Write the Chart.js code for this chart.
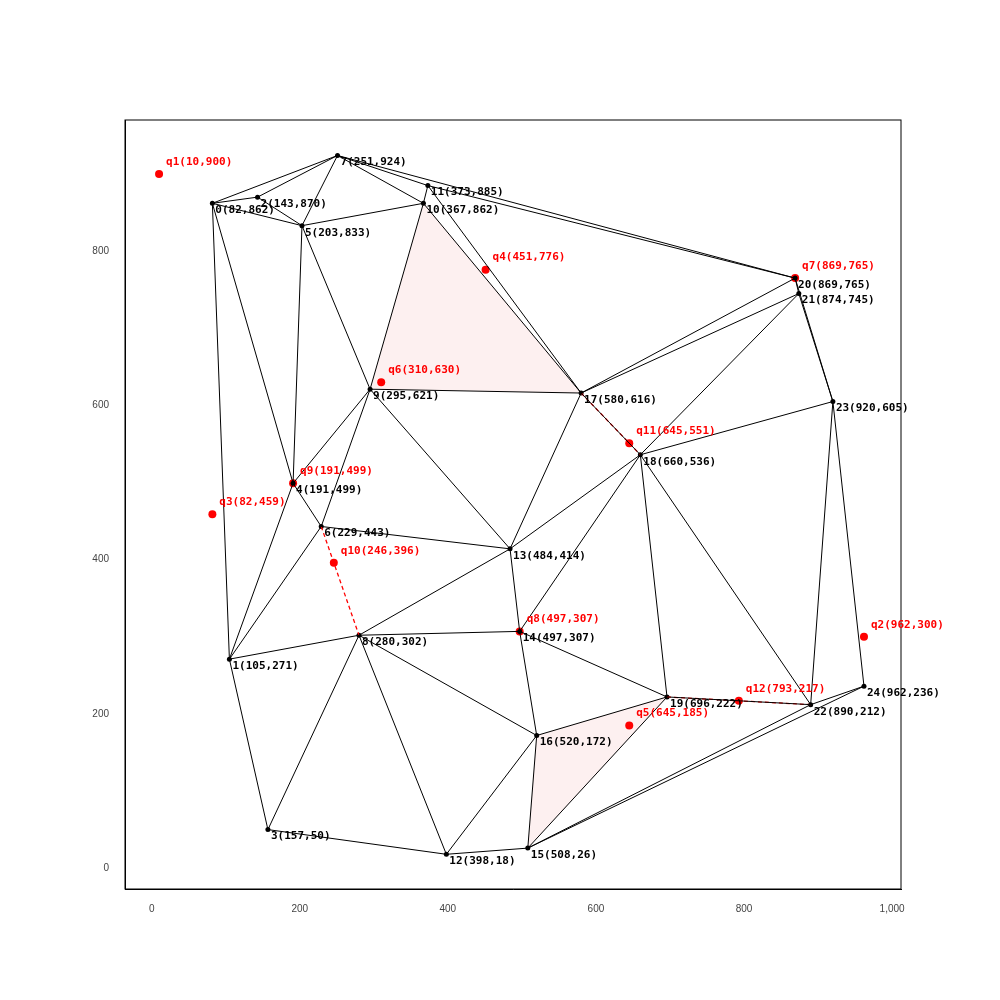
<!DOCTYPE html>
<html><head><meta charset="utf-8">
<script src="https://cdn.jsdelivr.net/npm/chart.js@4"></script>
<style>body{margin:0;background:#fff}#wrap{width:1000px;height:1000px}</style>
</head><body><div id="wrap"><canvas id="c"></canvas></div>
<script>
// triangulation vertices
const ptX = [82,105,143,157,191,203,229,251,280,295,367,373,398,484,497,508,520,580,660,696,869,874,890,920,962];
const ptY = [862,271,870,50,499,833,443,924,302,621,862,885,18,414,307,26,172,616,536,222,765,745,212,605,236];
// query points
const qX = [10,962,82,451,645,310,869,497,191,246,645,793];
const qY = [900,300,459,776,185,630,765,307,499,396,551,217];
const xTicks = [0,200,400,600,800,1000];
const yTicks = [0,200,400,600,800];
const edges = [[0,2],[0,7],[0,5],[0,1],[0,4],[2,7],[2,5],[7,5],[7,10],[7,11],[11,17],[7,20],
  [5,10],[5,4],[5,9],[10,11],[10,9],[10,17],[11,20],[9,4],[9,6],[9,17],[9,13],[4,6],[4,1],
  [6,1],[6,13],[1,8],[1,3],[8,3],[8,12],[8,13],[8,14],[8,16],[3,12],[12,16],[12,15],
  [13,17],[13,18],[13,14],[14,18],[14,16],[14,19],[16,15],[16,19],[15,19],[15,22],[15,24],
  [17,18],[17,20],[17,21],[18,21],[18,19],[18,22],[18,23],[20,21],[20,23],[21,23],
  [23,22],[23,24],[19,22],[22,24]];
const redEdges = [[17,18],[6,8],[19,22]];
const shaded = [[10,9,17],[16,15,19]];

const P = i => ({x: ptX[i], y: ptY[i]});
const datasets = [];
edges.forEach(e => datasets.push({data: e.map(P), showLine: true, borderColor: '#000', borderWidth: 1, pointRadius: 0}));
redEdges.forEach(e => datasets.push({data: e.map(P), showLine: true, borderColor: 'red', borderWidth: 1.3, borderDash: [4,3], pointRadius: 0}));
datasets.push({data: ptX.map((x,i) => P(i)), showLine: false, pointRadius: 2.5, backgroundColor: '#000', borderWidth: 0});
datasets.push({data: qX.map((x,i) => ({x, y: qY[i]})), showLine: false, pointRadius: 4, backgroundColor: 'red', borderWidth: 0});

const overlay = {
  id: 'overlay',
  beforeDatasetsDraw(chart) {
    const {ctx, scales: {x, y}} = chart;
    ctx.save();
    ctx.fillStyle = 'rgba(240,128,128,0.12)';
    shaded.forEach(t => {
      ctx.beginPath();
      t.forEach((i, k) => { const px = x.getPixelForValue(ptX[i]), py = y.getPixelForValue(ptY[i]); k ? ctx.lineTo(px, py) : ctx.moveTo(px, py); });
      ctx.closePath(); ctx.fill();
    });
    ctx.restore();
  },
  afterDatasetsDraw(chart) {
    const {ctx, chartArea: a, scales: {x, y}} = chart;
    ctx.save();
    ctx.strokeStyle = '#000'; ctx.lineWidth = 1;
    ctx.strokeRect(a.left, a.top, a.right - a.left, a.bottom - a.top);
    ctx.font = 'bold 11px "DejaVu Sans Mono", monospace';
    ctx.textBaseline = 'middle';
    ctx.fillStyle = '#000';
    ptX.forEach((v, i) => ctx.fillText(i + '(' + v + ',' + ptY[i] + ')', x.getPixelForValue(v) + 3, y.getPixelForValue(ptY[i]) + 7));
    ctx.fillStyle = 'red';
    qX.forEach((v, i) => ctx.fillText('q' + (i + 1) + '(' + v + ',' + qY[i] + ')', x.getPixelForValue(v) + 7, y.getPixelForValue(qY[i]) - 12));
    ctx.restore();
  }
};

new Chart(document.getElementById('c'), {
  type: 'scatter',
  data: {datasets},
  plugins: [overlay],
  options: {
    responsive: true, maintainAspectRatio: false, animation: false,
    layout: {padding: {left: 0, right: 99, top: 120, bottom: 0}},
    plugins: {legend: {display: false}, tooltip: {enabled: false}},
    scales: {
      x: {min: -36, max: 1012, grid: {display: false}, border: {color: '#000'},
          afterBuildTicks: s => { s.ticks = xTicks.map(v => ({value: v})); },
          afterFit: s => { s.height = 111; },
          ticks: {color: '#444', font: {size: 10}, padding: 6}},
      y: {min: -27, max: 970, grid: {display: false}, border: {color: '#000'},
          afterBuildTicks: s => { s.ticks = yTicks.map(v => ({value: v})); },
          afterFit: s => { s.width = 125; },
          ticks: {color: '#444', font: {size: 10}, padding: 8}}
    }
  }
});
</script></body></html>
